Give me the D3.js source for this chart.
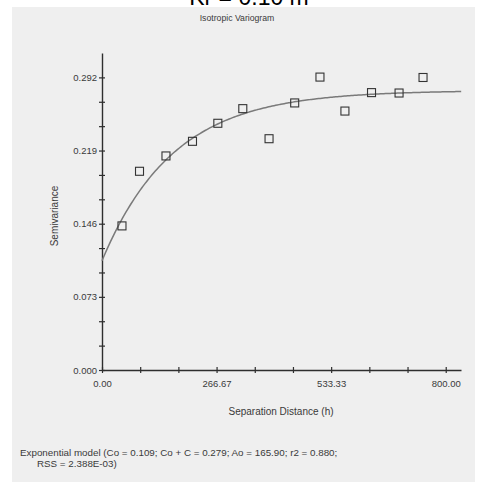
<!DOCTYPE html>
<html>
<head>
<meta charset="utf-8">
<script src="https://cdn.jsdelivr.net/npm/d3@7"></script>
<style>
  body { margin: 0; background: #fff; }
  svg { display: block; }
  text { font-family: "Liberation Sans", Arial, sans-serif; }
</style>
</head>
<body>
<div id="chart"></div>
<script>
// Experimental semivariance by lag class
const lagDistance = [46.5, 87.3, 148.9, 210.6, 269.6, 327.7, 388.8, 448.5, 507.3, 565.4, 627.3, 691.4, 747.2];
const semivariance = [0.1438, 0.1983, 0.2136, 0.2282, 0.2462, 0.2608, 0.2308, 0.2665, 0.2923, 0.2584, 0.2768, 0.2764, 0.2919];

// Fitted exponential model parameters
const nugget = 0.109;      // Co
const sill = 0.279;        // Co + C
const rangeParam = 165.90; // Ao
const r2 = 0.880;
const rss = "2.388E-03";

// Axis labels
const yTickLabels = ["0.000", "0.073", "0.146", "0.219", "0.292"];
const xTickLabels = ["0.00", "266.67", "533.33", "800.00"];

const W = 477, H = 485;
const svg = d3.select("#chart").append("svg").attr("width", W).attr("height", H);

svg.append("rect").attr("x", 0).attr("y", 0).attr("width", W).attr("height", H).attr("fill", "#fff");
svg.append("rect").attr("x", 12).attr("y", 7).attr("width", 463).attr("height", 475).attr("fill", "#efefef");

// Heading above the panel
svg.append("text").attr("x", 249).attr("y", 5).attr("text-anchor", "middle")
  .attr("font-size", 23).attr("fill", "#000").text("Kr = 0.10 m");

const yStep = 0.292 / 12;
const xStep = 800 / 9;

const x = d3.scaleLinear().domain([0, 800 + xStep * 0.4]).range([102, 461]);
const y = d3.scaleLinear().domain([0, 0.292 + yStep]).range([370, 53]);

const axisColor = "#2e2e2e";
const labelColor = "#3a3a3a";
const tickFont = 9.5;

// Title
svg.append("text").attr("x", 237).attr("y", 21).attr("text-anchor", "middle")
  .attr("font-size", 8.7).attr("fill", labelColor).text("Isotropic Variogram");

// Y axis
const yTicks = d3.range(0, 13).map(i => i * yStep);
const yAxis = d3.axisLeft(y).tickValues(yTicks).tickSize(0)
  .tickFormat((d, i) => i % 3 === 0 ? yTickLabels[i / 3] : "");
const gy = svg.append("g").attr("transform", "translate(102,0)").call(yAxis);
gy.select(".domain").attr("stroke", axisColor).attr("stroke-width", 1.4);
gy.selectAll(".tick text").attr("x", -5).attr("font-size", tickFont).attr("fill", labelColor)
  .attr("font-family", "Liberation Sans, Arial, sans-serif");
gy.selectAll(".tick").append("line").attr("x1", -3).attr("x2", 3)
  .attr("stroke", axisColor).attr("stroke-width", 1.2);

// X axis
const xTicks = d3.range(0, 10).map(i => i * xStep);
const xAxis = d3.axisBottom(x).tickValues(xTicks).tickSize(0)
  .tickFormat((d, i) => i % 3 === 0 ? xTickLabels[i / 3] : "");
const gx = svg.append("g").attr("transform", "translate(0,370)").call(xAxis);
gx.select(".domain").attr("stroke", axisColor).attr("stroke-width", 1.4);
gx.selectAll(".tick text").attr("y", 10).attr("font-size", tickFont).attr("fill", labelColor)
  .attr("font-family", "Liberation Sans, Arial, sans-serif");
gx.selectAll(".tick").append("line").attr("y1", -3).attr("y2", 3)
  .attr("stroke", axisColor).attr("stroke-width", 1.2);

// Axis titles
svg.append("text").attr("transform", "translate(58,216) rotate(-90)")
  .attr("text-anchor", "middle").attr("font-size", 10).attr("fill", labelColor).text("Semivariance");
svg.append("text").attr("x", 281).attr("y", 415).attr("text-anchor", "middle")
  .attr("font-size", 10).attr("fill", labelColor).text("Separation Distance (h)");

// Model curve
const model = h => nugget + (sill - nugget) * (1 - Math.exp(-h / rangeParam));
const hs = d3.range(0, x.domain()[1] + 1, 4);
svg.append("path").datum(hs)
  .attr("d", d3.line().x(h => x(h)).y(h => y(model(h))).curve(d3.curveMonotoneX))
  .attr("fill", "none").attr("stroke", "#7a7a7a").attr("stroke-width", 1.5);

// Experimental points
svg.append("g").selectAll("rect").data(lagDistance).join("rect")
  .attr("x", (d) => x(d) - 4).attr("y", (d, i) => y(semivariance[i]) - 4)
  .attr("width", 8).attr("height", 8)
  .attr("fill", "none").attr("stroke", "#333").attr("stroke-width", 1.1);

// Model summary
svg.append("text").attr("x", 20).attr("y", 456).attr("font-size", 9.8).attr("fill", labelColor)
  .text(`Exponential model (Co = ${nugget.toFixed(3)}; Co + C = ${sill.toFixed(3)}; Ao = ${rangeParam.toFixed(2)}; r2 = ${r2.toFixed(3)};`);
svg.append("text").attr("x", 37).attr("y", 467).attr("font-size", 9.8).attr("fill", labelColor)
  .text(`RSS = ${rss})`);
</script>
</body>
</html>
